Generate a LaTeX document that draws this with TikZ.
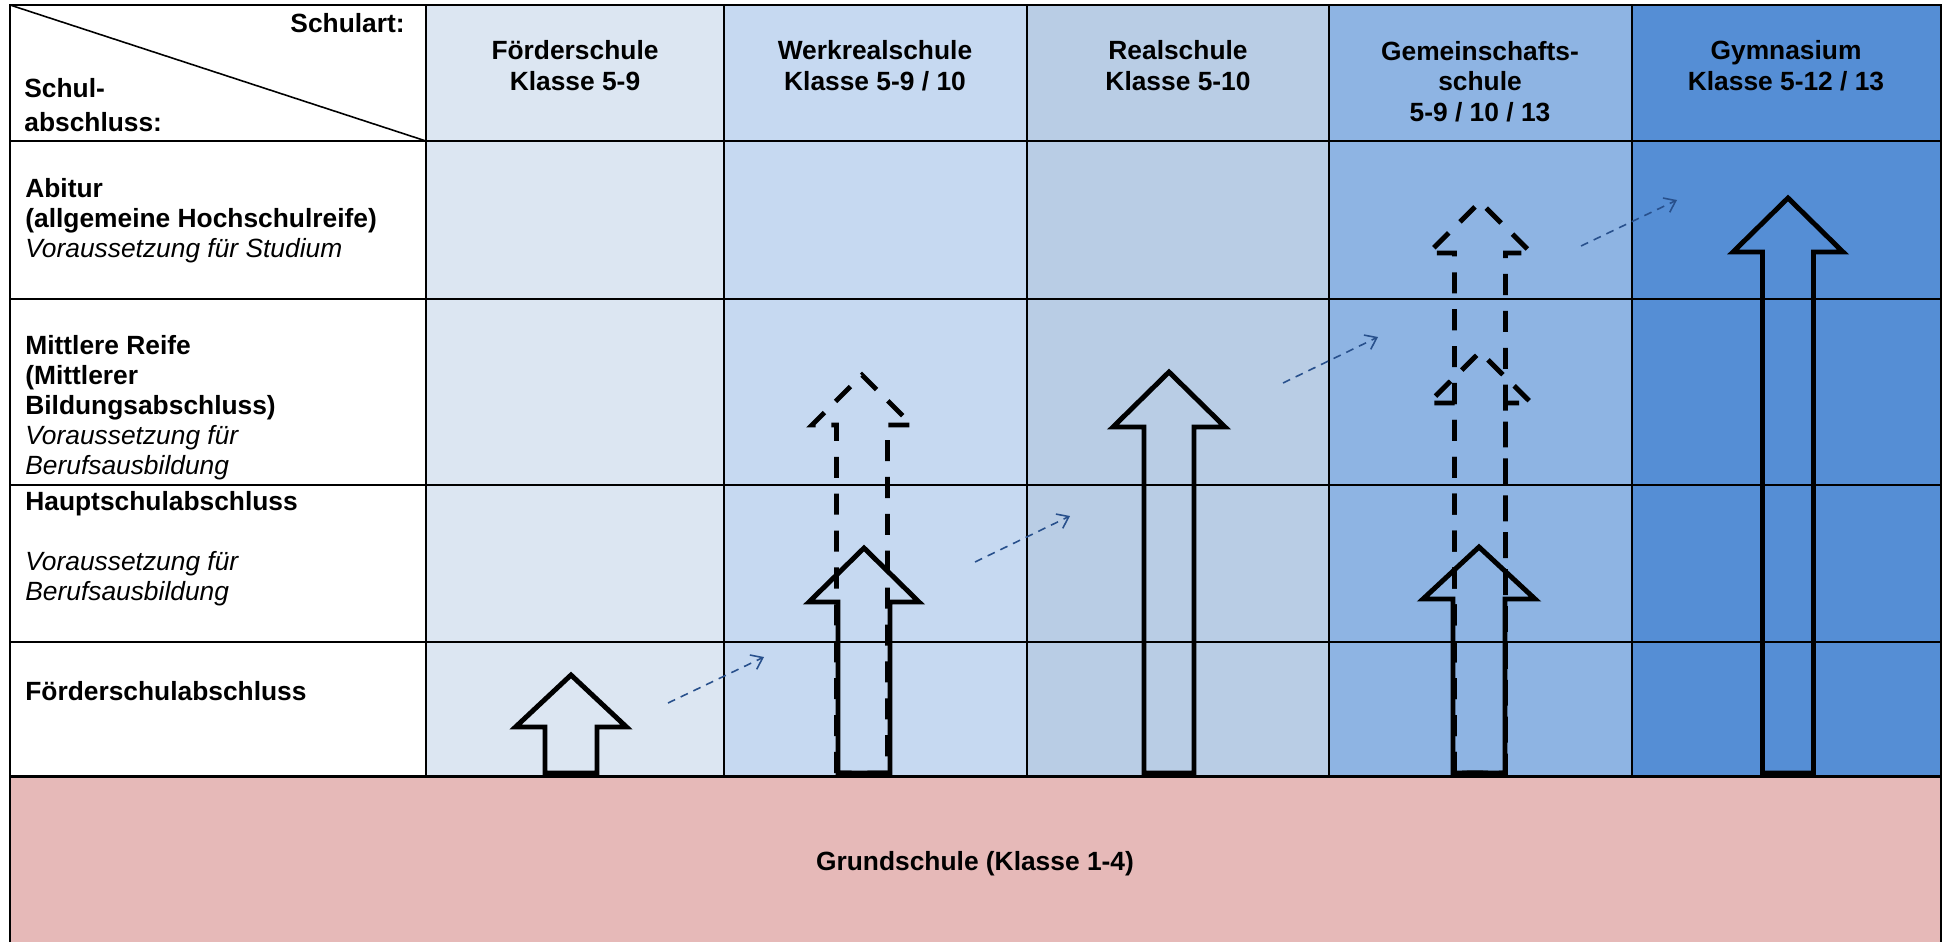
\documentclass[tikz,border=0pt]{standalone}
\usepackage{fontspec}
\setmainfont{Liberation Sans}
\usetikzlibrary{arrows.meta}
\definecolor{foerder-blau}{HTML}{DCE6F2}
\definecolor{werkreal-blau}{HTML}{C6D9F1}
\definecolor{real-blau}{HTML}{B9CDE5}
\definecolor{gemeinschaft-blau}{HTML}{8EB4E3}
\definecolor{gymnasium-blau}{HTML}{558ED5}
\definecolor{grundschule-rosa}{HTML}{E6B9B8}
\definecolor{wechsel-blau}{RGB}{40,80,140}
% block arrow: [style] centre x, tip y, head base y, half head width, half shaft width
\newcommand{\blockpfeil}[6][]{%
  \draw[pfeil,#1] (#2-#6,773) -- (#2-#6,#4) -- (#2-#5,#4) -- (#2,#3)
    -- (#2+#5,#4) -- (#2+#6,#4) -- (#2+#6,773) -- cycle;}

\begin{document}
\begin{tikzpicture}[x=0.02cm,y=-0.02cm,
  schrift/.style={font=\fontsize{15}{17}\selectfont, inner sep=0pt},
  kopf/.style={schrift, font=\fontsize{15}{17.3}\selectfont\bfseries, align=center, anchor=base},
  zeile/.style={schrift, align=left, anchor=base west},
  linie/.style={line width=1.1pt},
  pfeil/.style={line width=2.8pt, miter limit=10},
  gestrichelt/.style={dash pattern=on 12pt off 9pt},
  wechsel/.style={draw=wechsel-blau, line width=0.9pt, dash pattern=on 4.5pt off 3.5pt,
    -{Straight Barb[length=6pt,width=9pt]}}]
\fill[white] (0,0) rectangle (1944,942);
% columns
\fill[foerder-blau] (426,5) rectangle (724,776);
\fill[werkreal-blau] (724,5) rectangle (1027,776);
\fill[real-blau] (1027,5) rectangle (1329,776);
\fill[gemeinschaft-blau] (1329,5) rectangle (1632,776);
\fill[gymnasium-blau] (1632,5) rectangle (1941,776);
\fill[grundschule-rosa] (10,776) rectangle (1941,942);
% grid
\foreach \y in {141,299,485,642}
  \draw[linie] (10,\y) -- (1941,\y);
\foreach \x in {426,724,1027,1329,1632}
  \draw[linie] (\x,5) -- (\x,776);
\draw[line width=1.7pt] (10,776) -- (1941,776);
\draw[line width=1.5pt] (10,942) -- (10,5) -- (1941,5) -- (1941,942);
\draw[line width=0.9pt] (10,5) -- (426,141);

% header (base = last line)
\node[schrift, font=\fontsize{15}{17}\selectfont\bfseries, anchor=base east] (schulart) at (405,32) {Schulart:};
\node[zeile, font=\fontsize{15}{17}\selectfont\bfseries] (schulabschluss) at (24,131) {Schul-\\[2pt]abschluss:};
\node[kopf] (foerder) at (575,90) {Förderschule\\Klasse 5-9};
\node[kopf] (werkreal) at (875,90) {Werkrealschule\\Klasse 5-9 / 10};
\node[kopf] (real) at (1178,90) {Realschule\\Klasse 5-10};
\node[kopf] (gemeinschaft) at (1480,121) {Gemeinschafts-\\schule\\5-9 / 10 / 13};
\node[kopf] (gymnasium) at (1786,90) {Gymnasium\\Klasse 5-12 / 13};

% rows
\node[zeile] (abitur) at (25,257) {\textbf{Abitur}\\\textbf{(allgemeine Hochschulreife)}\\\textit{Voraussetzung für Studium}};
\node[zeile] (mreife) at (25,474) {\textbf{Mittlere Reife}\\\textbf{(Mittlerer}\\\textbf{Bildungsabschluss)}\\\textit{Voraussetzung für}\\\textit{Berufsausbildung}};
\node[zeile] (hsa) at (25,600) {\textbf{Hauptschulabschluss}\\[17pt]\textit{Voraussetzung für}\\\textit{Berufsausbildung}};
\node[zeile] (fsa) at (25,700) {\textbf{Förderschulabschluss}};
\node[kopf] (grundschule) at (975,870) {Grundschule (Klasse 1-4)};

% possible paths (dashed)
\blockpfeil[gestrichelt]{862}{375}{425}{50}{25.5}
\blockpfeil[gestrichelt]{1480}{202}{253}{51.5}{25.5}
\blockpfeil[gestrichelt]{1480}{352}{403}{51.5}{25.5}
% regular paths
\blockpfeil{571}{675}{727}{55.5}{26}
\blockpfeil{864}{548}{602}{55}{26}
\blockpfeil{1169}{372}{427}{56}{25}
\blockpfeil{1479}{547}{599}{56}{26}
\blockpfeil{1788}{198}{252}{55}{25.5}

% changes of school
\coordinate (w1a) at (668,703);
\coordinate (w1b) at (764,657);
\coordinate (w2a) at (975,562);
\coordinate (w2b) at (1070,516);
\coordinate (w3a) at (1283,383);
\coordinate (w3b) at (1378,337);
\coordinate (w4a) at (1581,246);
\coordinate (w4b) at (1677,200);
\draw[wechsel] (w1a) -- (w1b);
\draw[wechsel] (w2a) -- (w2b);
\draw[wechsel] (w3a) -- (w3b);
\draw[wechsel] (w4a) -- (w4b);
\end{tikzpicture}
\end{document}
